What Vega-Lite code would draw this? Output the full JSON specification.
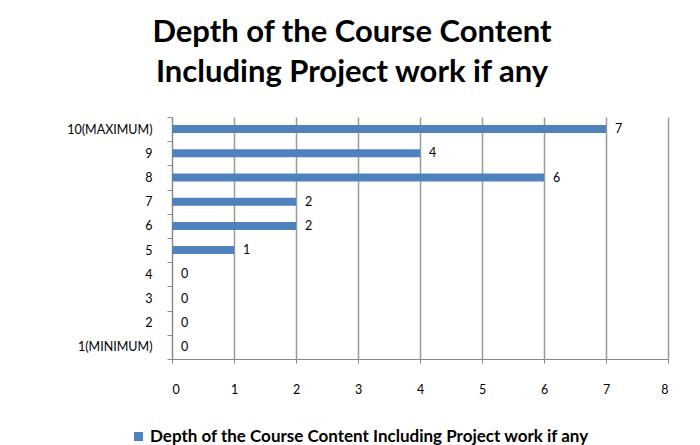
{
  "$schema": "https://vega.github.io/schema/vega-lite/v6.json",
  "autosize": "none",
  "width": 496,
  "height": 242,
  "padding": {"left": 172, "top": 117, "right": 32, "bottom": 86},
  "background": "white",
  "title": {
    "text": ["Depth of the Course Content", "Including Project work if any"],
    "font": "Lato",
    "fontSize": 31,
    "fontWeight": "bold",
    "color": "#000000",
    "lineHeight": 40,
    "anchor": "middle",
    "dx": -68,
    "offset": 22
  },
  "data": {
    "values": [
      {"rating": "10(MAXIMUM)", "count": 7, "series": "Depth of the Course Content Including Project work if any"},
      {"rating": "9", "count": 4, "series": "Depth of the Course Content Including Project work if any"},
      {"rating": "8", "count": 6, "series": "Depth of the Course Content Including Project work if any"},
      {"rating": "7", "count": 2, "series": "Depth of the Course Content Including Project work if any"},
      {"rating": "6", "count": 2, "series": "Depth of the Course Content Including Project work if any"},
      {"rating": "5", "count": 1, "series": "Depth of the Course Content Including Project work if any"},
      {"rating": "4", "count": 0, "series": "Depth of the Course Content Including Project work if any"},
      {"rating": "3", "count": 0, "series": "Depth of the Course Content Including Project work if any"},
      {"rating": "2", "count": 0, "series": "Depth of the Course Content Including Project work if any"},
      {"rating": "1(MINIMUM)", "count": 0, "series": "Depth of the Course Content Including Project work if any"}
    ]
  },
  "encoding": {
    "y": {
      "field": "rating",
      "type": "nominal",
      "sort": ["10(MAXIMUM)", "9", "8", "7", "6", "5", "4", "3", "2", "1(MINIMUM)"],
      "scale": {"paddingInner": 0, "paddingOuter": 0},
      "axis": {
        "title": null,
        "tickBand": "extent",
        "tickSize": 5,
        "tickColor": "#888888",
        "domainColor": "#888888",
        "labelFont": "Lato",
        "labelFontSize": 12.5,
        "labelColor": "#000000",
        "labelPadding": 15
      }
    },
    "x": {
      "field": "count",
      "type": "quantitative",
      "scale": {"domain": [0, 8]},
      "axis": {
        "title": null,
        "values": [0, 1, 2, 3, 4, 5, 6, 7, 8],
        "grid": true,
        "gridColor": "#999999",
        "gridWidth": 1.5,
        "tickSize": 4,
        "tickColor": "#888888",
        "domainColor": "#888888",
        "labelFont": "Lato",
        "labelFontSize": 12.5,
        "labelColor": "#000000",
        "labelPadding": 20
      }
    }
  },
  "layer": [
    {
      "mark": {"type": "bar", "height": 8},
      "encoding": {
        "color": {
          "field": "series",
          "type": "nominal",
          "scale": {"range": ["#4F81BD"]},
          "legend": {
            "title": null,
            "orient": "none",
            "legendX": -42,
            "legendY": 311,
            "symbolType": "square",
            "symbolSize": 81,
            "symbolStrokeWidth": 0,
            "symbolOffset": 0,
            "labelOffset": 3,
            "labelFont": "Lato",
            "labelFontSize": 17,
            "labelFontWeight": "bold",
            "labelColor": "#000000",
            "labelLimit": 700
          }
        }
      }
    },
    {
      "mark": {"type": "text", "align": "left", "dx": 9, "font": "Lato", "fontSize": 12.5, "color": "#000000"},
      "encoding": {"text": {"field": "count", "type": "quantitative"}}
    }
  ],
  "config": {"view": {"stroke": null}}
}
